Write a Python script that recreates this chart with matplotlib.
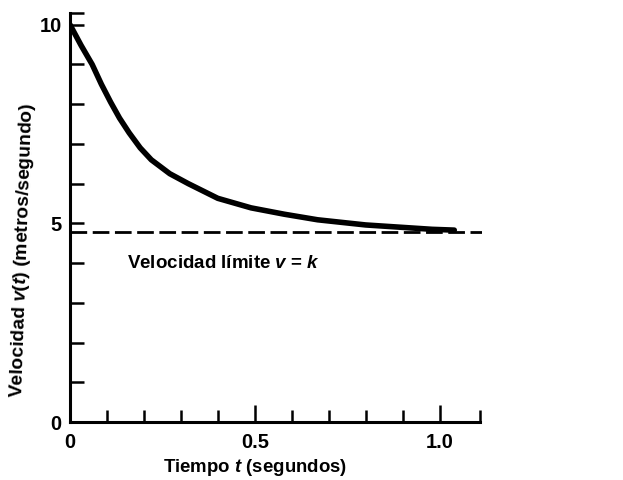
import matplotlib
matplotlib.use("Agg")
import matplotlib.pyplot as plt

# values
tiempo = [0.0, 0.03, 0.06, 0.085, 0.11, 0.134, 0.16, 0.19, 0.22, 0.27, 0.32, 0.40, 0.49, 0.58, 0.67, 0.80, 0.98, 1.04]
velocidad = [10.0, 9.48, 9.0, 8.5, 8.05, 7.65, 7.28, 6.9, 6.6, 6.25, 6.0, 5.63, 5.39, 5.23, 5.09, 4.96, 4.85, 4.83]
v_limite = 4.78

y_major = [0, 5, 10]
y_minor = [1, 2, 3, 4, 6, 7, 8, 9, 10.3]
x_major = [0.5, 1.0]
x_minor = [0.1, 0.2, 0.3, 0.4, 0.6, 0.7, 0.8, 0.9, 1.11]
x_labels = ["0", "0.5", "1.0"]

plt.rcParams['font.family'] = ['Liberation Sans', 'DejaVu Sans']
plt.rcParams['mathtext.fontset'] = 'custom'
plt.rcParams['mathtext.rm'] = 'Liberation Sans:bold'
plt.rcParams['mathtext.it'] = 'Liberation Sans:bold:italic'

fig = plt.figure(figsize=(6.23, 4.8), dpi=100)
ax = fig.add_axes([70 / 623, 58 / 480, 412 / 623, 410 / 480])

ax.plot(tiempo, velocidad, color='black', lw=4.0, solid_capstyle='round', solid_joinstyle='round')
ax.axhline(v_limite, color='black', lw=2.0, dashes=(6, 2))

ax.set_xlim(0, 1.115)
ax.set_ylim(0, 10.32)

for s in ['top', 'right']:
    ax.spines[s].set_visible(False)
for s in ['left', 'bottom']:
    ax.spines[s].set_linewidth(2.2)
ax.spines['left'].set_bounds(0, 10.3)
ax.spines['bottom'].set_bounds(0, 1.11)

ax.set_yticks(y_major)
ax.set_yticks(y_minor, minor=True)
ax.set_yticklabels([str(v) for v in y_major], fontsize=14.5, fontweight='bold')
ax.set_xticks([0.0] + x_major)
ax.set_xticks(x_minor, minor=True)
ax.set_xticklabels(x_labels, fontsize=14.5, fontweight='bold')

ax.tick_params(axis='y', which='both', direction='in', length=10, width=1.8, pad=6)
ax.tick_params(axis='x', which='major', direction='in', length=12, width=1.8, pad=8)
ax.tick_params(axis='x', which='minor', direction='in', length=9, width=1.8)

ax.text(0.155, 4.0, r'Velocidad límite $v$ = $k$', fontsize=13.5, fontweight='bold', va='center')

fig.text(255 / 623, 1 - 467 / 480, r'Tiempo $t$ (segundos)', fontsize=13.4, fontweight='bold',
         ha='center', va='center')
fig.text(23 / 623, 1 - 250 / 480, r'Velocidad $v$($t$) (metros/segundo)', fontsize=13.9,
         fontweight='bold', ha='center', va='center', rotation=88)

fig.savefig('out.png', dpi=100)
